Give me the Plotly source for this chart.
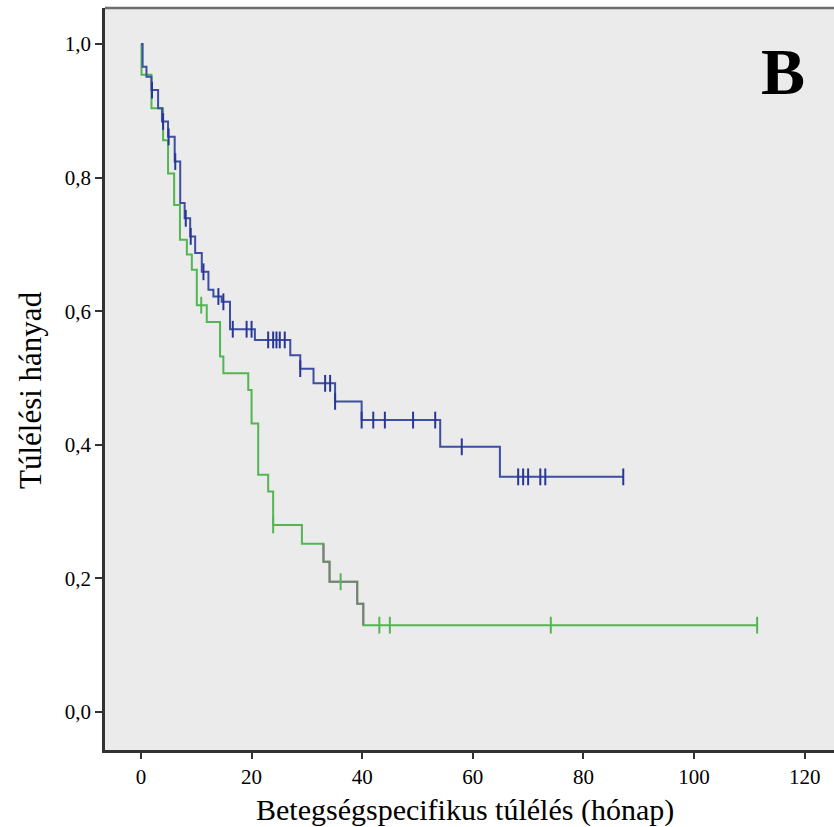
import numpy as np
import plotly.graph_objects as go

# ---- data ----
x_ticks = [0, 20, 40, 60, 80, 100, 120]
y_ticks = [0.0, 0.2, 0.4, 0.6, 0.8, 1.0]
y_tick_labels = ["0,0", "0,2", "0,4", "0,6", "0,8", "1,0"]

blue_event_t = [0.3, 1.0, 1.9, 3.1, 3.8, 4.9, 6.1, 7.1, 7.9, 8.9, 9.8, 11.0, 12.2, 13.1, 14.6,
                16.1, 20.6, 27.0, 28.8, 31.2, 35.1, 39.9, 54.1, 64.9]
blue_event_s = [0.966, 0.951, 0.931, 0.904, 0.884, 0.861, 0.824, 0.762, 0.739, 0.712, 0.687,
                0.659, 0.632, 0.622, 0.614, 0.573, 0.557, 0.534, 0.514, 0.492, 0.465, 0.437,
                0.397, 0.352]
blue_censor_t = [2.0, 4.0, 5.0, 6.2, 8.1, 9.0, 11.3, 14.0, 14.9, 16.6, 19.1, 20.0, 23.0, 23.9,
                 24.5, 25.1, 26.0, 28.8, 33.3, 34.2, 35.1, 39.9, 42.0, 44.1, 49.2, 53.2, 58.0,
                 68.2, 69.1, 70.0, 72.2, 73.1, 87.2]
blue_end = 87.2

green_event_t = [0.1, 1.9, 4.0, 4.9, 6.0, 7.05, 8.3, 9.2, 10.1, 11.9, 14.3, 14.9, 19.4, 20.0,
                 21.2, 23.0, 23.9, 29.1, 33.0, 34.1, 39.1, 40.2]
green_event_s = [0.954, 0.904, 0.856, 0.806, 0.759, 0.707, 0.685, 0.662, 0.609, 0.584, 0.532,
                 0.507, 0.482, 0.432, 0.355, 0.330, 0.280, 0.252, 0.225, 0.195, 0.162, 0.130]
green_censor_t = [10.9, 23.9, 36.1, 43.1, 45.0, 74.1, 111.4]
green_end = 111.4
gray_span = (33.0, 40.2)   # part of the green curve drawn in gray in the reference

BLUE = "rgb(62,78,160)"
BLUE_MARK = "rgb(40,55,150)"
GREEN = "rgb(82,182,82)"
GRAY = "rgb(125,125,125)"
FONT = "Liberation Serif, Times New Roman, serif"


def step_path(ts, ss, end, start=0.0, s0=1.0):
    xs, ys = [start], [s0]
    prev = s0
    for t, s in zip(ts, ss):
        xs += [t, t]
        ys += [prev, s]
        prev = s
    xs.append(end)
    ys.append(prev)
    return np.array(xs), np.array(ys)


def surv_at(ts, ss, c):
    idx = np.searchsorted(np.array(ts), np.array(c), side="right")
    vals = np.concatenate([[1.0], ss])
    return vals[idx]


fig = go.Figure()

bx, by = step_path(blue_event_t, blue_event_s, blue_end)
gx, gy = step_path(green_event_t, green_event_s, green_end)

fig.add_trace(go.Scatter(x=gx, y=gy, mode="lines", line=dict(color=GREEN, width=2),
                         hoverinfo="skip", showlegend=False))
# gray overlay portion
mask_t = [(t, s) for t, s in zip(green_event_t, green_event_s) if gray_span[0] <= t <= gray_span[1]]
prev_s = surv_at(green_event_t, green_event_s, [gray_span[0] - 1e-6])[0]
gxs, gys = [gray_span[0]], [prev_s]
for t, s in mask_t:
    gxs += [t, t]
    gys += [prev_s, s]
    prev_s = s
fig.add_trace(go.Scatter(x=gxs, y=gys, mode="lines", line=dict(color=GRAY, width=2),
                         hoverinfo="skip", showlegend=False))

fig.add_trace(go.Scatter(x=bx, y=by, mode="lines", line=dict(color=BLUE, width=2),
                         hoverinfo="skip", showlegend=False))

fig.add_trace(go.Scatter(x=green_censor_t, y=surv_at(green_event_t, green_event_s, green_censor_t),
                         mode="markers",
                         marker=dict(symbol="line-ns-open", size=12, color=GREEN,
                                     line=dict(color=GREEN, width=2)),
                         hoverinfo="skip", showlegend=False))
fig.add_trace(go.Scatter(x=blue_censor_t, y=surv_at(blue_event_t, blue_event_s, blue_censor_t),
                         mode="markers",
                         marker=dict(symbol="line-ns-open", size=12, color=BLUE_MARK,
                                     line=dict(color=BLUE_MARK, width=2)),
                         hoverinfo="skip", showlegend=False))

L, T, B = 105, 8, 77
W, H = 834, 827

fig.update_layout(
    width=W, height=H,
    margin=dict(l=L, r=0, t=T, b=B, pad=0),
    paper_bgcolor="white",
    plot_bgcolor="rgb(235,235,235)",
    font=dict(family=FONT, color="black"),
    xaxis=dict(range=[-6.5, 125.3], tickvals=x_ticks, ticktext=[str(v) for v in x_ticks],
               showgrid=False, zeroline=False, showline=True, linecolor="rgb(50,50,50)",
               linewidth=2.5, ticks="outside", ticklen=6, tickwidth=2, tickcolor="rgb(50,50,50)",
               tickfont=dict(size=21, family=FONT)),
    yaxis=dict(range=[-0.0569, 1.0539], tickvals=y_ticks, ticktext=y_tick_labels,
               showgrid=False, zeroline=False, showline=True, linecolor="rgb(50,50,50)",
               linewidth=2.5, ticks="outside", ticklen=7, tickwidth=2, tickcolor="rgb(50,50,50)",
               tickfont=dict(size=21, family=FONT)),
    shapes=[dict(type="line", xref="paper", yref="paper", x0=0, x1=1, y0=1, y1=1,
                 line=dict(color="rgb(110,110,110)", width=2.5))],
    annotations=[
        dict(text="Betegségspecifikus túlélés (hónap)", xref="paper", yref="paper",
             x=0.4945, y=-(810 - 750) / 742, xanchor="center", yanchor="middle",
             showarrow=False, font=dict(size=30, family=FONT)),
        dict(text="Túlélési hányad", xref="paper", yref="paper",
             x=-(L - 30) / 729, y=(750 - 390) / 742, xanchor="center", yanchor="middle",
             textangle=-90, showarrow=False, font=dict(size=31, family=FONT)),
        dict(text="<b>B</b>", xref="paper", yref="paper",
             x=(783 - L) / 729, y=(750 - 72) / 742, xanchor="center", yanchor="middle",
             showarrow=False, font=dict(size=66, family=FONT)),
    ],
)

fig.write_html("out.html")
